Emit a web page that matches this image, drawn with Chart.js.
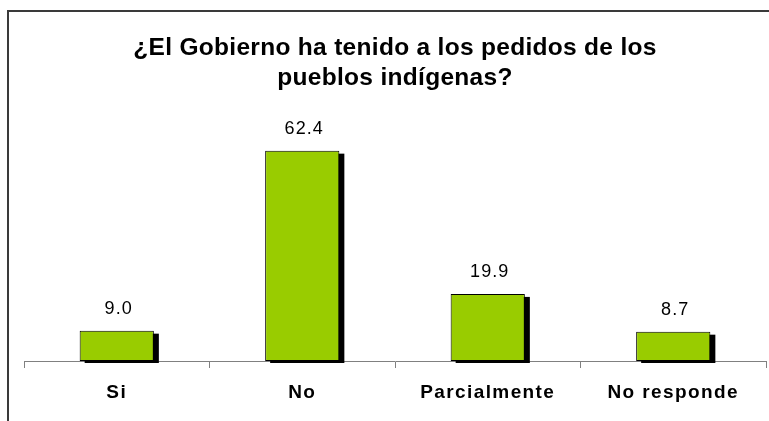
<!DOCTYPE html>
<html>
<head>
<meta charset="utf-8">
<script src="https://cdn.jsdelivr.net/npm/chart.js@4"></script>
<style>
  html, body { margin: 0; padding: 0; background: #ffffff; }
  #wrap { position: relative; width: 769px; height: 421px; overflow: hidden; }
  #frame { position: absolute; left: 7px; top: 10px; width: 800px; height: 500px;
           border-top: 2px solid #3a3a3a; border-left: 2px solid #3a3a3a; }
  canvas { position: absolute; left: 0; top: 0; }
</style>
</head>
<body>
<div id="wrap">
  <div id="frame"></div>
  <canvas id="c" width="769" height="421"></canvas>
</div>
<script>
const titleLines = ["¿El Gobierno ha tenido a los pedidos de los", "pueblos indígenas?"];
const categories = ["Si", "No", "Parcialmente", "No responde"];
const values = [9.0, 62.4, 19.9, 8.7];

const FONT = "'Liberation Sans', Arial, sans-serif";

class SpacedCategoryScale extends Chart.CategoryScale {
  drawLabels(area) {
    const ctx = this.ctx;
    ctx.save();
    ctx.letterSpacing = '1.4px';
    super.drawLabels(area);
    ctx.restore();
  }
}
SpacedCategoryScale.id = 'spacedCategory';
SpacedCategoryScale.defaults = Chart.CategoryScale.defaults;
Chart.register(SpacedCategoryScale);

const titleSpacing = {
  id: 'titleSpacing',
  beforeDraw(chart) { chart.ctx.letterSpacing = '0.3px'; },
  beforeDatasetsDraw(chart) { chart.ctx.letterSpacing = '0px'; }
};

const shadowPlugin = {
  id: 'barShadow',
  beforeDatasetsDraw(chart) {
    const ctx = chart.ctx;
    const meta = chart.getDatasetMeta(0);
    ctx.save();
    ctx.fillStyle = '#000000';
    meta.data.forEach(bar => {
      const p = bar.getProps(['x', 'y', 'base', 'width'], true);
      const left = p.x - p.width / 2;
      ctx.fillRect(left + 5, p.y + 3, p.width, p.base - p.y - 1);
    });
    ctx.restore();
  }
};

const labelPlugin = {
  id: 'valueLabels',
  afterDatasetsDraw(chart) {
    const ctx = chart.ctx;
    const meta = chart.getDatasetMeta(0);
    ctx.save();
    ctx.fillStyle = '#000000';
    ctx.font = "18px " + FONT;
    ctx.letterSpacing = '1.1px';
    ctx.textAlign = 'center';
    ctx.textBaseline = 'middle';
    meta.data.forEach((bar, i) => {
      const p = bar.getProps(['x', 'y'], true);
      ctx.fillText(values[i].toFixed(1), p.x + 2, p.y - 22);
    });
    ctx.restore();
  }
};

new Chart(document.getElementById('c'), {
  type: 'bar',
  data: {
    labels: categories,
    datasets: [{
      data: values,
      backgroundColor: '#99CC00',
      borderColor: '#000000',
      borderWidth: 1,
      borderSkipped: false,
      barPercentage: 0.8,
      categoryPercentage: 0.5
    }]
  },
  options: {
    responsive: false,
    animation: false,
    devicePixelRatio: 1,
    layout: { padding: { left: 24, right: 3, top: 0, bottom: 0 } },
    plugins: {
      legend: { display: false },
      tooltip: { enabled: false },
      title: {
        display: true,
        text: titleLines,
        color: '#000000',
        font: { family: FONT, size: 24.5, weight: 'bold', lineHeight: 1.225 },
        padding: { top: 33, bottom: 32 }
      }
    },
    scales: {
      x: {
        type: 'spacedCategory',
        offset: true,
        grid: { display: true, drawOnChartArea: false, drawTicks: true, tickLength: 7, color: '#808080', offset: true },
        border: { display: true, color: '#808080', width: 1 },
        ticks: { color: '#000000', padding: 13, font: { family: FONT, size: 19, weight: 'bold' } },
        afterFit(scale) { scale.height = 60; }
      },
      y: {
        display: false,
        min: 0,
        max: 70
      }
    }
  },
  plugins: [titleSpacing, shadowPlugin, labelPlugin]
});
</script>
</body>
</html>
